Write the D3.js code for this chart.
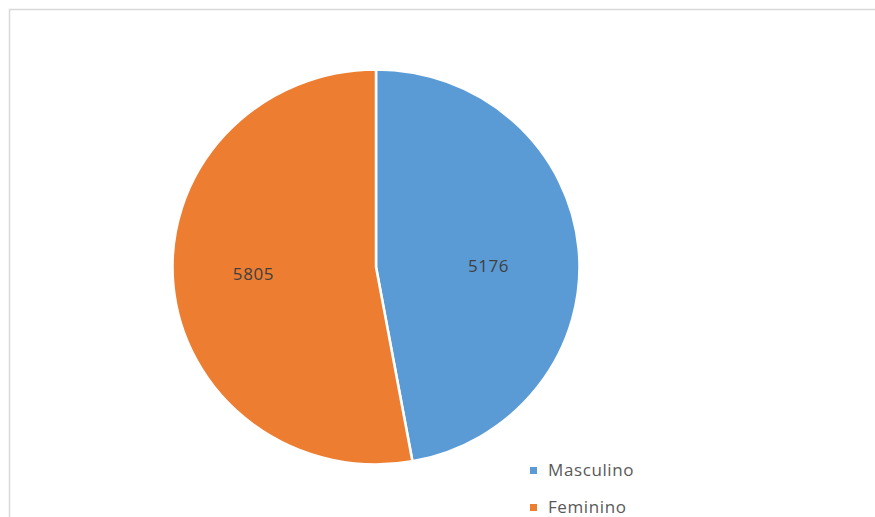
<!DOCTYPE html>
<html>
<head>
<meta charset="utf-8">
<script src="https://cdn.jsdelivr.net/npm/d3@7"></script>
<style>
  html, body { margin: 0; padding: 0; background: #fff; }
  svg { display: block; }
</style>
</head>
<body>
<svg id="chart" width="875" height="517"></svg>
<script>
// Respondents by sex
const categories = ["Masculino", "Feminino"];
const values = [5176, 5805];
const colors = ["#5B9BD5", "#ED7D31"];

const width = 875, height = 517;
const svg = d3.select("#chart");

// Chart area frame (top and left edges visible)
svg.append("rect")
  .attr("x", 9.5).attr("y", 9.5)
  .attr("width", 900).attr("height", 600)
  .attr("fill", "#fff")
  .attr("stroke", "#d9d9d9")
  .attr("stroke-width", 1.5);

const cx = 376, cy = 267;
const r = 200;

const pie = d3.pie().sort(null).value(d => d.value);
const arcs = pie(categories.map((c, i) => ({ name: c, value: values[i], color: colors[i] })));
const arc = d3.arc().innerRadius(0).outerRadius(r);

const g = svg.append("g")
  .attr("transform", `translate(${cx},${cy}) scale(${203.5 / r},${197.5 / r})`);

g.selectAll("path")
  .data(arcs)
  .join("path")
  .attr("d", arc)
  .attr("fill", d => d.data.color)
  .attr("stroke", "#fff")
  .attr("stroke-width", 2.5);

// Value labels inside each slice, near the slice's mid angle
const labelArc = d3.arc().innerRadius(r * 0.59).outerRadius(r * 0.59);
svg.append("g")
  .attr("transform", `translate(${cx - 5},${cy})`)
  .selectAll("text")
  .data(arcs)
  .join("text")
  .attr("transform", d => {
    const [x, y] = labelArc.centroid(d);
    return `translate(${x},${y * 0.35 + 3})`;
  })
  .attr("text-anchor", "middle")
  .attr("dy", "0.35em")
  .attr("font-family", "'Open Sans', 'DejaVu Sans', sans-serif")
  .attr("font-size", 17)
  .attr("letter-spacing", 0.6)
  .attr("fill", "#404040")
  .text(d => d.data.value);

// Legend
const legend = svg.append("g").attr("transform", "translate(530,467)");
const item = legend.selectAll("g")
  .data(categories)
  .join("g")
  .attr("transform", (d, i) => `translate(0,${i * 37})`);
item.append("rect")
  .attr("x", 0).attr("y", 0)
  .attr("width", 7).attr("height", 7)
  .attr("fill", (d, i) => colors[i]);
item.append("text")
  .attr("x", 18).attr("y", 3.5)
  .attr("dy", "0.35em")
  .attr("font-family", "'Open Sans', 'DejaVu Sans', sans-serif")
  .attr("font-size", 17)
  .attr("letter-spacing", 0.6)
  .attr("fill", "#595959")
  .text(d => d);
</script>
</body>
</html>
